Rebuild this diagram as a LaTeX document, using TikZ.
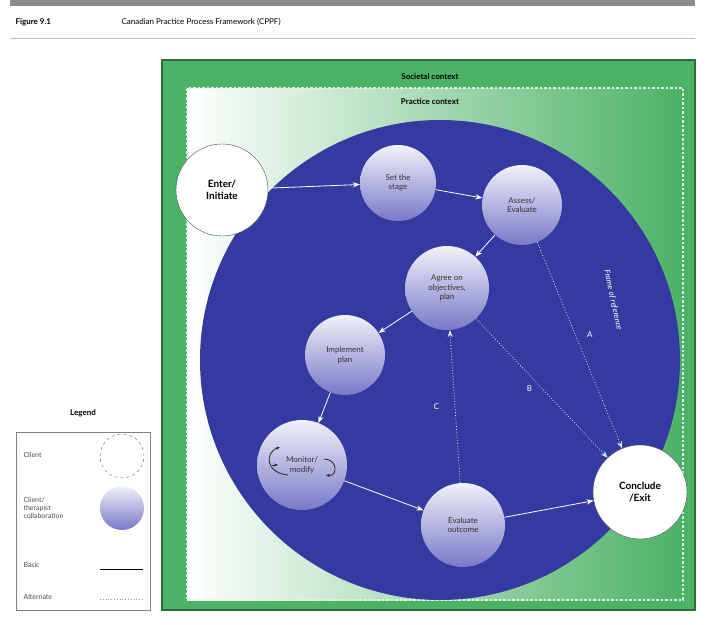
\documentclass[tikz,border=0pt]{standalone}
\usepackage{fontspec}
\setmainfont{Lato}
\usetikzlibrary{arrows.meta}
\definecolor{cgreen}{RGB}{76,178,102}
\definecolor{cblue}{RGB}{52,58,160}
\definecolor{cball}{RGB}{120,120,200}
\begin{document}
\begin{tikzpicture}[x=1pt,y=-1pt,font=\small]
        % Styles
        \tikzset{
          phase/.style={circle,minimum size=80pt,align=center,inner sep=0pt,
            top color=white!90!cball,bottom color=cball,text=black!80,font=\footnotesize},
          client/.style={circle,draw=black!70,fill=white,minimum size=92pt,align=center,
            inner sep=0pt,font=\bfseries},
          basic/.style={draw=white,thick,-{Stealth[length=7pt]}},
          alternate/.style={draw=white!85!cblue,thick,dotted,-{Stealth[length=7pt]}},
          pathlabel/.style={text=white,font=\footnotesize}
        }
        \useasboundingbox (0,0) rectangle (720,624);
        %header
        \fill[black!45] (10,0) rectangle (695,6);
        \node[anchor=west,font=\footnotesize\bfseries] (fig) at (12,22) {Figure 9.1};
        \node[anchor=west,font=\footnotesize] (title) at (118,22) {Canadian Practice Process Framework (CPPF)};
        \draw[black!25] (10,38) -- (695,38);
        %contexts
        \fill[cgreen,draw=cgreen!60!black,line width=1.2pt] (162,60) rectangle (695,610);
        \shade[left color=white,right color=cgreen] (187,88) rectangle (683,600);
        \draw[white!85!cgreen,line width=2pt,dash dot] (187,88) rectangle (683,600);
        \node[font=\footnotesize\bfseries] (society) at (430,77) {Societal context};
        \node[font=\footnotesize\bfseries] (practice) at (430,102) {Practice context};
        \fill[cblue] (440,360) circle[radius=240];
        \node[rotate=-78,text=white,font=\footnotesize\itshape] (frame) at (613,300) {Frame of reference};
        %phases
        \node[phase,minimum size=76pt] (stage) at (398,183) {Set the\\stage};
        \node[phase] (assess) at (522,205) {Assess/\\Evaluate};
        \node[phase,minimum size=84pt] (agree) at (447,288) {Agree on\\objectives,\\plan};
        \node[phase] (implement) at (345,355) {Implement\\plan};
        \node[phase,minimum size=90pt] (monitor) at (302,465) {Monitor/\\modify};
        \node[phase,minimum size=84pt] (outcome) at (463,525) {Evaluate\\outcome};
        \node[client] (enter) at (222,190) {Enter/\\Initiate};
        \node[client,minimum size=94pt] (exit) at (640,492) {Conclude\\/Exit};
        %loop arrows of monitor
        \draw[black!85,thick,-{Stealth[length=4pt]}] ([xshift=-14pt,yshift=-10pt]monitor.center)
          .. controls ([xshift=-36pt,yshift=-8pt]monitor.center) and ([xshift=-38pt,yshift=12pt]monitor.center)
          .. ([xshift=-22pt,yshift=18pt]monitor.center);
        \draw[black!85,thick,-{Stealth[length=4pt]}] ([xshift=-30pt,yshift=0pt]monitor.center)
          -- ([xshift=-24pt,yshift=0pt]monitor.center);
        \draw[black!85,thick,-{Stealth[length=4pt]}] ([xshift=22pt,yshift=6pt]monitor.center)
          .. controls ([xshift=36pt,yshift=6pt]monitor.center) and ([xshift=36pt,yshift=-12pt]monitor.center)
          .. ([xshift=24pt,yshift=-10pt]monitor.center);
        %connectors
        \draw[basic] (enter) -- (stage);
        \draw[basic] (stage) -- (assess);
        \draw[basic] (assess) -- (agree);
        \draw[basic] (agree) -- (implement);
        \draw[basic] (implement) -- (monitor);
        \draw[basic] (monitor) -- (outcome);
        \draw[basic] (outcome) -- (exit);
        \draw[alternate] (assess) -- node[pathlabel,pos=0.45,right=8pt] (a) {A} (exit);
        \draw[alternate] (agree) -- node[pathlabel,pos=0.5,left=6pt] (b) {B} (exit);
        \draw[alternate] (outcome) -- node[pathlabel,pos=0.5,left=12pt] (c) {C} (agree);
        %legend
        \node[font=\footnotesize\bfseries] (legend) at (83,413) {Legend};
        \draw[black!50,fill=white] (16,432) rectangle (150,610);
        \node[anchor=west,font=\scriptsize,text=black!70] (lclient) at (20,455) {Client};
        \node[circle,draw=black!60,dashed,minimum size=44pt] (lclientc) at (122,456) {};
        \node[anchor=west,font=\scriptsize,text=black!70,align=left] (lcollab) at (20,508) {Client/\\therapist\\collaboration};
        \node[circle,minimum size=44pt,top color=white!90!cball,bottom color=cball] (lcollabc) at (122,508) {};
        \node[anchor=west,font=\scriptsize,text=black!70] (lbasic) at (20,565) {Basic};
        \coordinate (lb1) at (100,569); \coordinate (lb2) at (143,569);
        \draw[thick] (lb1) -- (lb2);
        \node[anchor=west,font=\scriptsize,text=black!70] (lalt) at (20,597) {Alternate};
        \coordinate (la1) at (100,599); \coordinate (la2) at (143,599);
        \draw[black!40,thick,dotted] (la1) -- (la2);
    \end{tikzpicture}
\end{document}
